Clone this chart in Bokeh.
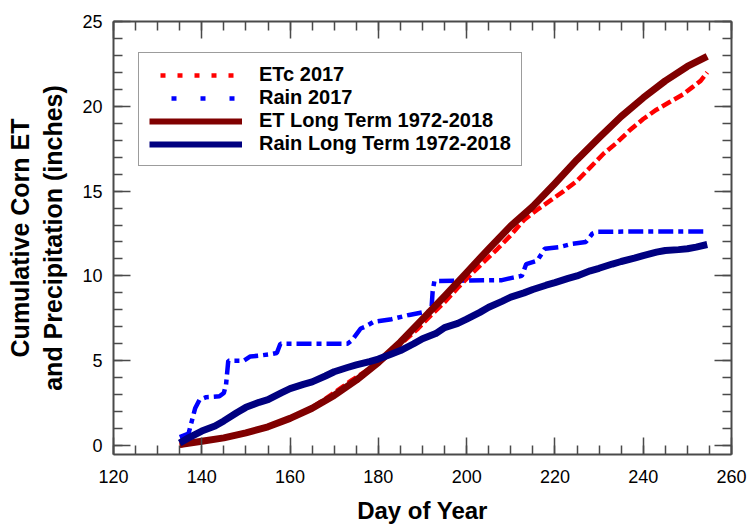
from bokeh.plotting import figure
from bokeh.models import (Range1d, LinearAxis, SingleIntervalTicker, Legend, LegendItem)
from bokeh.embed import file_html
from bokeh.resources import INLINE

# ---------------- data ----------------
etc_day = [135, 138, 141, 144, 147, 150, 153, 156, 159, 162, 165, 168, 171, 174, 177, 180,
           183, 186, 189, 192, 195, 198, 201, 204, 207, 210, 213, 216, 219, 222, 225, 228,
           231, 234, 237, 240, 243, 246, 249, 251, 253, 254.5]
etc_val = [0.0, 0.15, 0.3, 0.42, 0.55, 0.72, 0.95, 1.2, 1.5, 1.85, 2.25, 2.75, 3.3, 3.85, 4.35, 4.85,
           5.5, 6.2, 6.9, 7.7, 8.45, 9.3, 10.1, 10.85, 11.6, 12.4, 13.3, 13.9, 14.45, 15.0, 15.6, 16.4,
           17.2, 17.85, 18.6, 19.25, 19.8, 20.25, 20.7, 21.1, 21.5, 22.0]

rain_day = [135, 137, 137.7, 138.5, 139.5, 141, 144, 145, 145.5, 146, 149.5, 151, 153, 156, 157,
            157.8, 165, 173, 174, 176, 177, 179, 183, 187, 190, 192, 192.3, 192.7, 208, 210.5,
            212.5, 213.5, 216, 217.7, 221, 224, 227, 228.5, 229.5, 240, 254.5]
rain_val = [0.5, 0.7, 1.4, 2.2, 2.7, 2.85, 2.9, 3.1, 3.6, 5.0, 5.0, 5.25, 5.3, 5.4, 5.45,
            6.0, 6.0, 6.0, 6.2, 6.9, 7.0, 7.3, 7.45, 7.7, 7.85, 7.9, 9.1, 9.7, 9.75, 9.9,
            10.0, 10.7, 10.9, 11.6, 11.7, 11.9, 12.0, 12.5, 12.6, 12.62, 12.62]

et_lt_day = [135, 140, 145, 150, 155, 160, 165, 170, 175, 180, 185, 190, 195, 200, 205, 210,
             215, 220, 225, 230, 235, 240, 245, 250, 254.5]
et_lt_val = [0.05, 0.25, 0.45, 0.75, 1.1, 1.6, 2.2, 2.95, 3.85, 4.9, 6.1, 7.45, 8.8, 10.2, 11.6, 12.95,
             14.1, 15.45, 16.85, 18.15, 19.4, 20.5, 21.5, 22.35, 22.95]

rain_lt_day = [135, 137, 140, 143, 145, 148, 150, 153, 155, 158, 160, 163, 165, 168, 170, 173, 175,
               178, 180, 183, 185, 188, 190, 193, 195, 198, 200, 203, 205, 208, 210, 213, 215, 218,
               220, 223, 225, 228, 230, 233, 235, 238, 240, 243, 245, 248, 250, 252, 254.5]
rain_lt_val = [0.15, 0.45, 0.85, 1.15, 1.45, 1.95, 2.25, 2.55, 2.7, 3.1, 3.35, 3.6, 3.75, 4.1, 4.35,
               4.6, 4.75, 4.95, 5.1, 5.4, 5.6, 6.0, 6.3, 6.6, 6.95, 7.2, 7.45, 7.85, 8.15, 8.5, 8.75,
               9.0, 9.2, 9.45, 9.6, 9.85, 10.0, 10.3, 10.45, 10.7, 10.85, 11.05, 11.2, 11.4, 11.5,
               11.55, 11.6, 11.7, 11.85]

series_names = ["ETc 2017", "Rain 2017", "ET Long Term 1972-2018", "Rain Long Term 1972-2018"]
x_label = "Day of Year"
y_label = "Cumulative Corn ET\nand Precipitation (inches)"

# ---------------- figure ----------------
FONT = "Liberation Sans"
AX = "#4a4a4a"

p = figure(width=748, height=527, output_backend="svg", toolbar_location=None,
           x_range=Range1d(120, 260), y_range=Range1d(-0.53, 25),
           min_border_left=113, min_border_right=17, min_border_top=21, min_border_bottom=73,
           background_fill_color="white", border_fill_color="white")
p.outline_line_color = None
p.xgrid.visible = False
p.ygrid.visible = False

p.xaxis.ticker = SingleIntervalTicker(interval=20, num_minor_ticks=4)
p.yaxis.ticker = SingleIntervalTicker(interval=5, num_minor_ticks=5)


def style_axis(ax):
    ax.axis_line_color = AX
    ax.axis_line_width = 2
    ax.major_tick_line_color = AX
    ax.minor_tick_line_color = AX
    ax.major_tick_line_width = 1.5
    ax.minor_tick_line_width = 1.5
    ax.major_tick_in = 17
    ax.major_tick_out = 0
    ax.minor_tick_in = 9
    ax.minor_tick_out = 0
    ax.major_label_text_font = FONT
    ax.major_label_text_font_size = "18px"
    ax.major_label_text_color = "black"
    ax.axis_label_text_font = FONT
    ax.axis_label_text_font_style = "bold"
    ax.axis_label_text_color = "black"


for ax in (p.xaxis[0], p.yaxis[0]):
    style_axis(ax)

p.xaxis.axis_label = x_label
p.yaxis.axis_label = y_label
p.xaxis.axis_label_text_font_size = "24px"
p.yaxis.axis_label_text_font_size = "25px"
p.xaxis.major_label_standoff = 15
p.xaxis.axis_label_standoff = 11
p.yaxis.major_label_standoff = 11
p.yaxis.axis_label_standoff = 12

top_ax = LinearAxis(ticker=SingleIntervalTicker(interval=20, num_minor_ticks=4))
right_ax = LinearAxis(ticker=SingleIntervalTicker(interval=5, num_minor_ticks=5))
for ax in (top_ax, right_ax):
    style_axis(ax)
    ax.major_label_text_font_size = "1px"
    ax.major_label_text_color = None
    ax.major_label_standoff = 0
p.add_layout(top_ax, "above")
p.add_layout(right_ax, "right")

# ---------------- data lines ----------------
p.line(etc_day, etc_val, line_color="#FF0000", line_width=4.5, line_dash="10 4")
p.line(rain_day, rain_val, line_color="#0000FF", line_width=4.5, line_dash="15 5 5 5")
p.line(et_lt_day, et_lt_val, line_color="#800000", line_width=7, line_join="round")
p.line(rain_lt_day, rain_lt_val, line_color="#000080", line_width=7, line_join="round")

# legend samples (styled as in the original key; data lie outside the visible range)
kx = [0, 1]
ky = [-50, -50]
r1 = p.line(kx, ky, line_color="#FF0000", line_width=4.5, line_dash="5 12", line_dash_offset=6)
r2 = p.line(kx, ky, line_color="#0000FF", line_width=4.5, line_dash="5 24", line_dash_offset=7)
r3 = p.line(kx, ky, line_color="#800000", line_width=6)
r4 = p.line(kx, ky, line_color="#000080", line_width=6)

legend = Legend(items=[LegendItem(label=series_names[0], renderers=[r1]),
                       LegendItem(label=series_names[1], renderers=[r2]),
                       LegendItem(label=series_names[2], renderers=[r3]),
                       LegendItem(label=series_names[3], renderers=[r4])],
                location=(25, 288), orientation="vertical",
                glyph_width=93, glyph_height=20, label_height=20, spacing=0,
                padding=10, margin=0, label_standoff=17,
                label_text_font=FONT, label_text_font_style="bold", label_text_font_size="20px",
                label_text_color="black",
                border_line_color="#3a3a3a", border_line_width=1.5,
                background_fill_color="white", background_fill_alpha=1.0)
p.add_layout(legend, "center")

open("out.html", "w").write(file_html(p, INLINE))
